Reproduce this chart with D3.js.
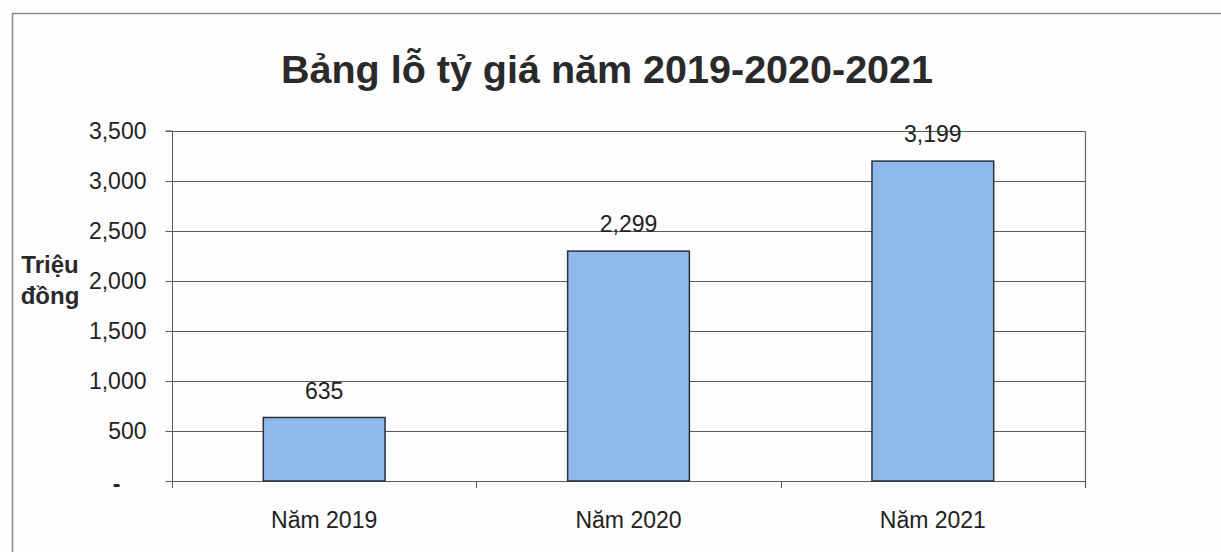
<!DOCTYPE html>
<html>
<head>
<meta charset="utf-8">
<script src="https://cdn.jsdelivr.net/npm/d3@7"></script>
<style>
  html, body { margin: 0; padding: 0; background: #fdfdfd; }
  svg { display: block; font-family: "Liberation Sans", Arial, sans-serif; }
</style>
</head>
<body>
<svg id="chart" width="1221" height="552"></svg>
<script>
const title = "Bảng lỗ tỷ giá năm 2019-2020-2021";
const categories = ["Năm 2019", "Năm 2020", "Năm 2021"];
const values = [635, 2299, 3199];
const valueLabels = ["635", "2,299", "3,199"];
const yTicks = [0, 500, 1000, 1500, 2000, 2500, 3000, 3500];
const yTitleLines = ["Triệu", "đồng"];

const svg = d3.select("#chart");
const W = 1221, H = 552;
const plot = { left: 172, right: 1085, top: 131, bottom: 481 };

// outer frame (extends off the page on right and bottom)
svg.append("path")
  .attr("d", `M12.5,${H + 5} L12.5,13.5 L${W + 5},13.5`)
  .attr("fill", "none").attr("stroke", "#8a8a8a").attr("stroke-width", 1.5);

const x = d3.scaleBand().domain(categories).range([plot.left, plot.right]).paddingInner(0.6).paddingOuter(0.3);
const y = d3.scaleLinear().domain([0, 3500]).range([plot.bottom, plot.top]);

// grid lines
svg.append("g").selectAll("line").data(yTicks).join("line")
  .attr("x1", plot.left).attr("x2", plot.right)
  .attr("y1", d => Math.round(y(d)) + 0.5).attr("y2", d => Math.round(y(d)) + 0.5)
  .attr("stroke", "#5a5a5a").attr("stroke-width", 1);

// right border
svg.append("line").attr("x1", plot.right + 0.5).attr("x2", plot.right + 0.5)
  .attr("y1", plot.top).attr("y2", plot.bottom + 7)
  .attr("stroke", "#6a6a6a").attr("stroke-width", 1.2);

// bars
svg.append("g").selectAll("rect").data(values).join("rect")
  .attr("x", (d, i) => x(categories[i]))
  .attr("width", x.bandwidth())
  .attr("y", d => y(d))
  .attr("height", d => y(0) - y(d))
  .attr("fill", "#8fb9ea")
  .attr("stroke", "#2a2f3a").attr("stroke-width", 1.5);

// value labels
svg.append("g").selectAll("text").data(values).join("text")
  .attr("x", (d, i) => x(categories[i]) + x.bandwidth() / 2)
  .attr("y", d => y(d) - 19)
  .attr("text-anchor", "middle")
  .attr("font-size", 23).attr("fill", "#222")
  .text((d, i) => valueLabels[i]);

// y axis
const yAxis = d3.axisLeft(y).tickValues(yTicks).tickSize(7).tickPadding(19)
  .tickFormat(d => d === 0 ? "-" : d3.format(",")(d));
const gy = svg.append("g").attr("transform", `translate(${plot.left + 0.5},0)`).call(yAxis);
gy.select(".domain").attr("d", `M-7,${plot.top}H0V${plot.bottom + 7}`).attr("stroke", "#5a5a5a").attr("fill", "none");
gy.selectAll(".tick line").attr("stroke", "#5a5a5a");
gy.selectAll(".tick text").attr("font-size", 23).attr("fill", "#222").attr("font-family", "Liberation Sans, Arial, sans-serif")
  .attr("dy", "0.34em");
gy.selectAll(".tick").filter(d => d === 0).select("text").attr("x", -52).attr("font-weight", "bold").attr("dy", "0.45em");

// x axis ticks at category boundaries
const boundaries = d3.range(categories.length + 1).map(i => plot.left + i * x.step() * 1 + (i === 0 ? 0 : 0));
const step = (plot.right - plot.left) / categories.length;
svg.append("g").selectAll("line").data(d3.range(categories.length + 1)).join("line")
  .attr("x1", i => Math.round(plot.left + i * step) + 0.5).attr("x2", i => Math.round(plot.left + i * step) + 0.5)
  .attr("y1", plot.bottom).attr("y2", plot.bottom + 7)
  .attr("stroke", "#5a5a5a");

// category labels
svg.append("g").selectAll("text").data(categories).join("text")
  .attr("x", d => x(d) + x.bandwidth() / 2)
  .attr("y", 528)
  .attr("text-anchor", "middle")
  .attr("font-size", 23).attr("fill", "#222")
  .text(d => d);

// title
svg.append("text").attr("x", 607).attr("y", 83).attr("text-anchor", "middle")
  .attr("font-size", 39.5).attr("font-weight", "bold").attr("fill", "#2a2a2a")
  .text(title);

// y axis title
svg.append("g").selectAll("text").data(yTitleLines).join("text")
  .attr("x", 50).attr("y", (d, i) => 273 + i * 31)
  .attr("text-anchor", "middle")
  .attr("font-size", 24).attr("font-weight", "bold").attr("fill", "#2a2a2a")
  .text(d => d);
</script>
</body>
</html>
